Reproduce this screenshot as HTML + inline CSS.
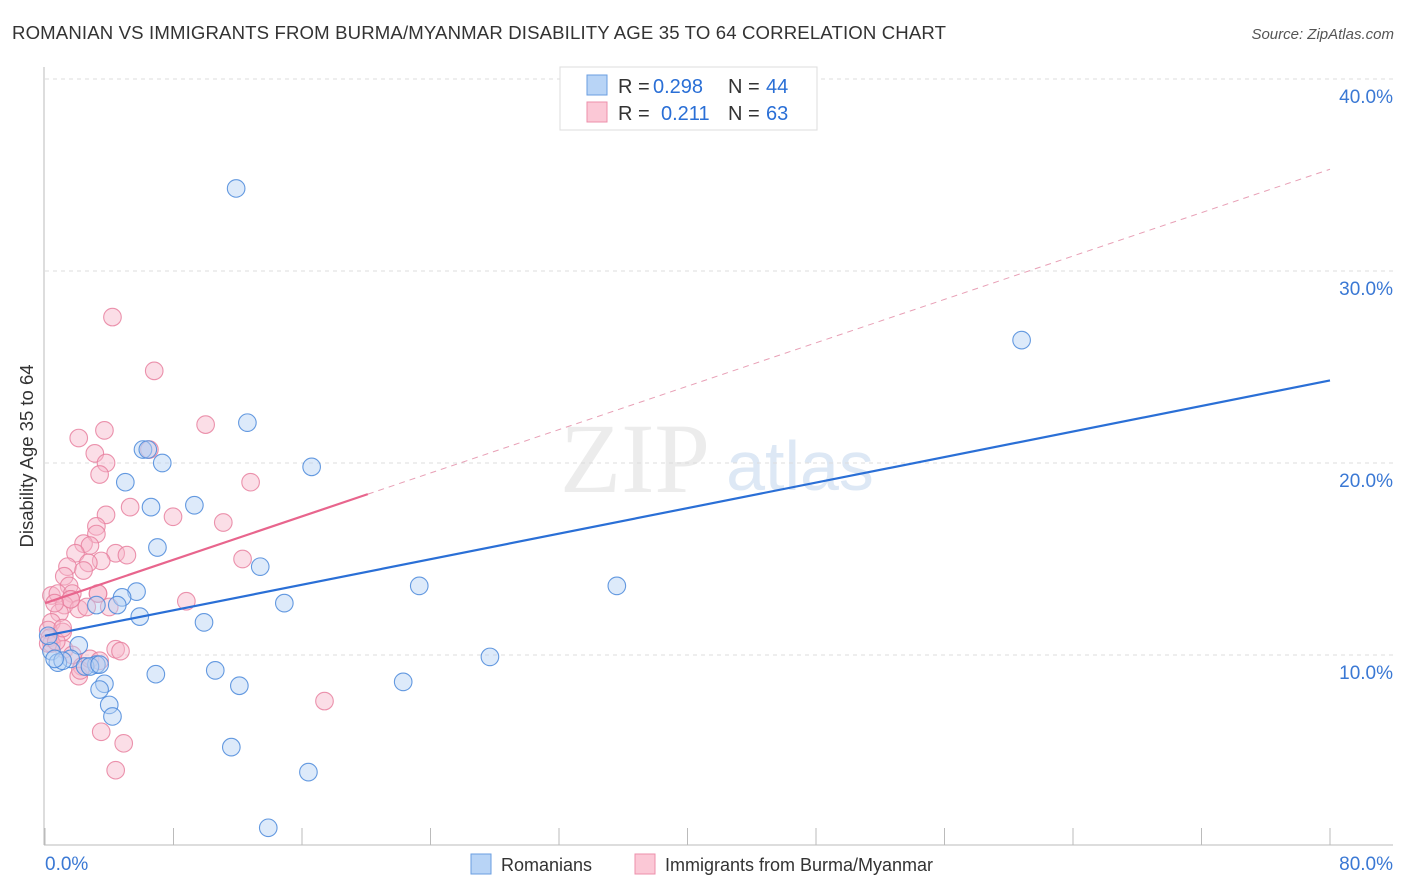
<!DOCTYPE html>
<html><head><meta charset="utf-8"><style>
body{margin:0;background:#fff;font-family:"Liberation Sans",sans-serif;}
svg{display:block}
</style></head><body>
<svg id="chart" width="1406" height="892">
<text x="12" y="39" font-size="18.6" fill="#333" textLength="934">ROMANIAN VS IMMIGRANTS FROM BURMA/MYANMAR DISABILITY AGE 35 TO 64 CORRELATION CHART</text>
<text x="1394" y="39" font-size="15" fill="#555" font-style="italic" text-anchor="end">Source: ZipAtlas.com</text>
<text x="33" y="456" font-size="18.5" fill="#333" text-anchor="middle" transform="rotate(-90 33 456)">Disability Age 35 to 64</text>
<g>
<text x="635" y="492" font-size="100" font-family="Liberation Serif,serif" fill="#ececec" text-anchor="middle">ZIP</text>
<text x="800" y="490" font-size="70" fill="#dde8f5" text-anchor="middle">atlas</text>
</g>
<g id="grid"></g>
<g id="axes"></g>
<g id="pts"></g>
<g id="lines"></g>
<g>
<rect x="560" y="67" width="257" height="63" fill="#fff" stroke="#ddd"/>
<rect x="587" y="75" width="20" height="20" fill="#b8d4f6" stroke="#6a9ee0"/>
<text x="618" y="93" font-size="20" fill="#333">R =</text>
<text x="653" y="93" font-size="20" fill="#2a6fd6">0.298</text>
<text x="728" y="93" font-size="20" fill="#333">N =</text>
<text x="766" y="93" font-size="20" fill="#2a6fd6">44</text>
<rect x="587" y="102" width="20" height="20" fill="#fbc8d6" stroke="#ec8fab"/>
<text x="618" y="120" font-size="20" fill="#333">R =</text>
<text x="661" y="120" font-size="20" fill="#2a6fd6">0.211</text>
<text x="728" y="120" font-size="20" fill="#333">N =</text>
<text x="766" y="120" font-size="20" fill="#2a6fd6">63</text>
</g>
<g>
<rect x="471" y="854" width="20" height="20" fill="#b8d4f6" stroke="#6a9ee0"/>
<text x="501" y="871" font-size="18" fill="#333">Romanians</text>
<rect x="635" y="854" width="20" height="20" fill="#fbc8d6" stroke="#ec8fab"/>
<text x="665" y="871" font-size="18" fill="#333">Immigrants from Burma/Myanmar</text>
</g>
</svg>
<script>
const xTicks=[0,10,20,30,40,50,60,70,80];
const yTicks=[10,20,30,40];
const blueX=[11.9,60.8,12.6,6.1,6.4,7.3,16.6,5.0,6.6,9.3,7.0,13.4,23.3,35.6,5.7,4.8,3.2,4.5,14.9,5.9,9.9,2.1,0.4,1.6,3.2,2.5,2.8,0.8,1.1,3.4,6.9,10.6,27.7,22.3,3.7,3.4,12.1,4.0,4.2,11.6,16.4,13.9,0.2,0.6];
const blueY=[34.3,26.4,22.1,20.7,20.7,20.0,19.8,19.0,17.7,17.8,15.6,14.6,13.6,13.6,13.3,13.0,12.6,12.6,12.7,12.0,11.7,10.5,10.2,9.8,9.5,9.4,9.4,9.6,9.7,9.5,9.0,9.2,9.9,8.6,8.5,8.2,8.4,7.4,6.8,5.2,3.9,1.0,11.0,9.8];
const pinkX=[4.2,6.8,10.0,2.1,3.7,6.5,3.1,3.8,3.4,12.8,5.3,7.97,11.1,3.8,3.2,3.2,2.4,2.8,4.4,5.1,1.9,3.5,2.7,12.3,1.4,1.2,2.4,1.5,0.4,0.8,1.7,3.3,8.8,1.6,1.2,2.1,2.6,4.0,0.9,3.3,0.4,0.2,1.1,0.3,0.4,0.2,1.2,1.7,4.4,4.7,2.3,2.1,2.2,17.4,3.5,4.9,4.4,1.6,0.6,0.7,1.1,2.8,3.4];
const pinkY=[27.6,24.8,22.0,21.3,21.7,20.7,20.5,20.0,19.4,19.0,17.7,17.2,16.9,17.3,16.7,16.3,15.8,15.7,15.3,15.2,15.3,14.9,14.8,15.0,14.6,14.1,14.4,13.6,13.1,13.2,13.2,13.2,12.8,12.9,12.6,12.4,12.5,12.5,12.2,13.2,11.7,11.3,11.2,10.9,10.6,10.6,10.3,10.0,10.3,10.2,9.4,8.9,9.2,7.6,6.0,5.4,4.0,12.9,12.7,10.7,11.4,9.8,9.7];
const blueTrend=[11.0,24.3];
const pinkTrend=[12.7,35.3];
const pinkSolidEnd=20.1;
const NS="http://www.w3.org/2000/svg";
const sx=v=>45+v*16.0625, sy=v=>847-v*19.2;
function mk(tag,attrs,parent){const e=document.createElementNS(NS,tag);for(const k in attrs)e.setAttribute(k,attrs[k]);document.getElementById(parent).appendChild(e);return e;}
yTicks.forEach(t=>{
 const l=mk('line',{x1:45,x2:1393,y1:sy(t),y2:sy(t),stroke:'#ddd','stroke-dasharray':'4,4'},'grid');
 
 
 const tx=mk('text',{x:1393,y:sy(t)+24,'font-size':19,fill:'#3a78d4','text-anchor':'end'},'grid');
 tx.textContent=t.toFixed(1)+'%';
 
 
});
mk('line',{x1:44,x2:44,y1:67,y2:845,stroke:'#bbb'},'axes');
mk('line',{x1:44,x2:1393,y1:845,y2:845,stroke:'#bbb'},'axes');
for(let i=0;i<=10;i++){const x=sx(i*8);const t=mk('line',{x1:x,x2:x,y1:828,y2:845,stroke:'#bbb'},'axes');}
[[0,'start'],[80,'end']].forEach(([v,a])=>{const t=mk('text',{x:v?1393:45,y:870,'font-size':19,fill:'#3a78d4','text-anchor':a},'axes');t.textContent=v.toFixed(1)+'%';});
function pts(X,Y,fill,stroke,name){X.forEach((x,i)=>{const c=mk('circle',{cx:sx(x),cy:sy(Y[i]),r:8.8,fill:fill,'fill-opacity':0.45,stroke:stroke,'stroke-width':1.1,'stroke-opacity':0.85},'pts');
 
 });}
pts(pinkX,pinkY,'#f7b6c9','#e8809f','burma-point');
pts(blueX,blueY,'#b4d0f3','#4a88db','romanian-point');
let l=mk('line',{x1:sx(0),y1:sy(blueTrend[0]),x2:sx(80),y2:sy(blueTrend[1]),stroke:'#2a6fd6','stroke-width':2.2},'lines');


const py=x=>pinkTrend[0]+(pinkTrend[1]-pinkTrend[0])*x/80;
l=mk('line',{x1:sx(0),y1:sy(py(0)),x2:sx(pinkSolidEnd),y2:sy(py(pinkSolidEnd)),stroke:'#e8658d','stroke-width':2.2},'lines');


l=mk('line',{x1:sx(pinkSolidEnd),y1:sy(py(pinkSolidEnd)),x2:sx(80),y2:sy(py(80)),stroke:'#e8a0b6','stroke-width':1,'stroke-dasharray':'6,5'},'lines');


</script>
</body></html>
